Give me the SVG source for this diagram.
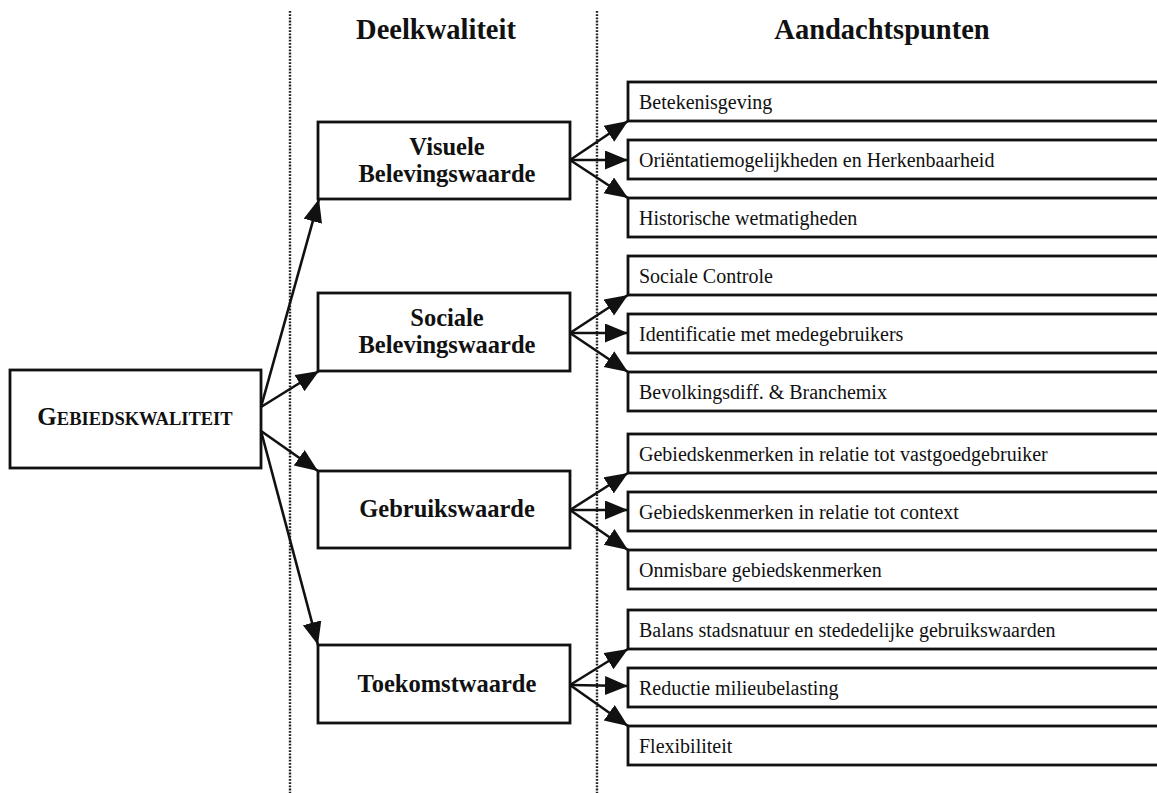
<svg xmlns="http://www.w3.org/2000/svg" width="1157" height="793" viewBox="0 0 1157 793">
  <style>
    .box { fill: #ffffff; stroke: #111111; stroke-width: 2.8; }
    .head { font-family: "Liberation Serif", "Times New Roman", serif; font-weight: bold; font-size: 28.5px; fill: #111111; text-anchor: middle; }
    .mid { font-family: "Liberation Serif", "Times New Roman", serif; font-weight: bold; font-size: 24.5px; fill: #111111; text-anchor: middle; }
    .item { font-family: "Liberation Serif", "Times New Roman", serif; font-size: 20px; fill: #111111; }
    .main { font-family: "Liberation Serif", "Times New Roman", serif; font-weight: bold; fill: #111111; text-anchor: middle; }
    .link { stroke: #111111; stroke-width: 2.6; fill: none; marker-end: url(#arrow); }
    .divider { stroke: #222222; stroke-width: 2.4; stroke-dasharray: 1.8 1.4; fill: none; }
  </style>
  <defs>
    <marker id="arrow" markerUnits="userSpaceOnUse" markerWidth="26" markerHeight="22" refX="23" refY="9.5" orient="auto">
      <path d="M0,0 L23,9.5 L0,19 z" fill="#111111"/>
    </marker>
  </defs>

  <rect x="0" y="0" width="1157" height="793" fill="#ffffff"/>

  <!-- column dividers -->
  <g id="dividers">
    <line class="divider" x1="290" y1="11" x2="290" y2="793"/>
    <line class="divider" x1="597" y1="11" x2="597" y2="793"/>
  </g>

  <!-- column headings -->
  <g id="headings">
    <text class="head" x="436" y="39">Deelkwaliteit</text>
    <text class="head" x="882" y="39">Aandachtspunten</text>
  </g>

  <!-- root node -->
  <g id="gebiedskwaliteit">
    <rect class="box" x="10" y="370" width="251" height="98"/>
    <text class="main" x="135" y="425"><tspan font-size="25">G</tspan><tspan font-size="18.5">EBIEDSKWALITEIT</tspan></text>
  </g>

  <!-- sub-quality nodes -->
  <g id="visuele-belevingswaarde">
    <rect class="box" x="318" y="122" width="252" height="77"/>
    <text class="mid" x="447" y="155">Visuele</text>
    <text class="mid" x="447" y="182">Belevingswaarde</text>
  </g>
  <g id="sociale-belevingswaarde">
    <rect class="box" x="318" y="293" width="252" height="78"/>
    <text class="mid" x="447" y="326">Sociale</text>
    <text class="mid" x="447" y="353">Belevingswaarde</text>
  </g>
  <g id="gebruikswaarde">
    <rect class="box" x="318" y="471" width="252" height="77"/>
    <text class="mid" x="447" y="517">Gebruikswaarde</text>
  </g>
  <g id="toekomstwaarde">
    <rect class="box" x="318" y="645" width="252" height="78"/>
    <text class="mid" x="447" y="692">Toekomstwaarde</text>
  </g>

  <!-- points of attention -->
  <g id="betekenisgeving">
    <rect class="box" x="628" y="82" width="540" height="39"/>
    <text class="item" x="639" y="109">Betekenisgeving</text>
  </g>
  <g id="orientatie">
    <rect class="box" x="628" y="140" width="540" height="39"/>
    <text class="item" x="639" y="167">Oriëntatiemogelijkheden en Herkenbaarheid</text>
  </g>
  <g id="historische">
    <rect class="box" x="628" y="198" width="540" height="39"/>
    <text class="item" x="639" y="225">Historische wetmatigheden</text>
  </g>

  <g id="sociale-controle">
    <rect class="box" x="628" y="256" width="540" height="39"/>
    <text class="item" x="639" y="283">Sociale Controle</text>
  </g>
  <g id="identificatie">
    <rect class="box" x="628" y="314" width="540" height="39"/>
    <text class="item" x="639" y="341">Identificatie met medegebruikers</text>
  </g>
  <g id="bevolkingsdiff">
    <rect class="box" x="628" y="372" width="540" height="39"/>
    <text class="item" x="639" y="399">Bevolkingsdiff. &amp; Branchemix</text>
  </g>

  <g id="kenmerken-vastgoed">
    <rect class="box" x="628" y="434" width="540" height="39"/>
    <text class="item" x="639" y="461">Gebiedskenmerken in relatie tot vastgoedgebruiker</text>
  </g>
  <g id="kenmerken-context">
    <rect class="box" x="628" y="492" width="540" height="39"/>
    <text class="item" x="639" y="519">Gebiedskenmerken in relatie tot context</text>
  </g>
  <g id="onmisbare-kenmerken">
    <rect class="box" x="628" y="550" width="540" height="39"/>
    <text class="item" x="639" y="577">Onmisbare gebiedskenmerken</text>
  </g>

  <g id="balans-stadsnatuur">
    <rect class="box" x="628" y="610" width="540" height="39"/>
    <text class="item" x="639" y="637">Balans stadsnatuur en stededelijke gebruikswaarden</text>
  </g>
  <g id="reductie-milieubelasting">
    <rect class="box" x="628" y="668" width="540" height="39"/>
    <text class="item" x="639" y="695">Reductie milieubelasting</text>
  </g>
  <g id="flexibiliteit">
    <rect class="box" x="628" y="726" width="540" height="39"/>
    <text class="item" x="639" y="753">Flexibiliteit</text>
  </g>

  <!-- connectors -->
  <g id="connectors">
    <line class="link" x1="261" y1="407" x2="319" y2="199"/>
    <line class="link" x1="261" y1="407" x2="319" y2="371"/>
    <line class="link" x1="261" y1="431" x2="318" y2="471"/>
    <line class="link" x1="261" y1="431" x2="318" y2="645"/>

    <line class="link" x1="570" y1="160" x2="628" y2="121"/>
    <line class="link" x1="570" y1="160" x2="628" y2="160"/>
    <line class="link" x1="570" y1="160" x2="628" y2="198"/>

    <line class="link" x1="570" y1="333" x2="628" y2="295"/>
    <line class="link" x1="570" y1="333" x2="628" y2="333"/>
    <line class="link" x1="570" y1="333" x2="628" y2="372"/>

    <line class="link" x1="570" y1="510" x2="628" y2="473"/>
    <line class="link" x1="570" y1="510" x2="628" y2="510"/>
    <line class="link" x1="570" y1="510" x2="628" y2="550"/>

    <line class="link" x1="570" y1="685" x2="628" y2="649"/>
    <line class="link" x1="570" y1="685" x2="628" y2="686"/>
    <line class="link" x1="570" y1="685" x2="628" y2="726"/>
  </g>
</svg>
